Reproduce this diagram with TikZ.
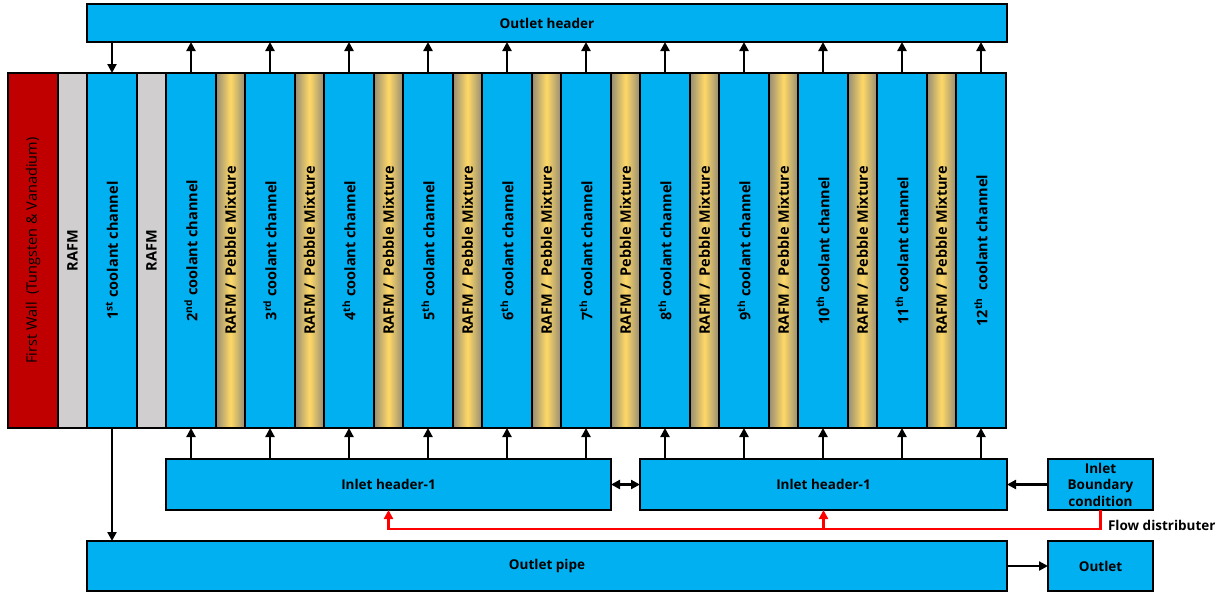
\documentclass[tikz,border=0pt]{standalone}
\usepackage{fontspec}
\setmainfont{Open Sans}
\usepackage{tikz}
\usetikzlibrary{arrows.meta, positioning}

\definecolor{chblue}{RGB}{0,176,240}
\definecolor{fwred}{RGB}{192,0,0}
\definecolor{rafmgray}{RGB}{208,206,206}
\definecolor{pebyellow}{RGB}{255,217,102}
\definecolor{pebgray}{RGB}{150,140,118}

\begin{document}
\begin{tikzpicture}[
    x=1pt, y=1pt,
    node distance=0pt,
    col/.style={rectangle, draw, line width=2pt, minimum height=355pt, inner sep=0pt, outer sep=0pt, font=\fontsize{14.5}{16}\selectfont\bfseries},
    wall/.style={col, fill=fwred, minimum width=50pt, font=\fontsize{14.5}{16}\selectfont},
    rafm/.style={col, fill=rafmgray, minimum width=29pt},
    coolant/.style={col, fill=chblue, minimum width=50pt},
    pebble/.style={col, left color=pebgray, right color=pebgray, middle color=pebyellow, minimum width=29pt},
    header/.style={rectangle, draw, line width=2pt, fill=chblue, inner sep=0pt, outer sep=0pt, align=center, font=\fontsize{13.5}{16.5}\selectfont\bfseries},
    arrow/.style={-{Triangle[length=9pt,width=9pt]}, line width=2.2pt},
    darrow/.style={{Triangle[length=9pt,width=9pt]}-{Triangle[length=9pt,width=9pt]}, line width=2.2pt},
    flow/.style={-{Triangle[length=9pt,width=9pt]}, line width=2.2pt, red},
    every node/.style={font=\fontsize{13.5}{16}\selectfont\bfseries}
]
\useasboundingbox (0,0) rectangle (1223,-592);

% Blanket layers
\node[wall, anchor=north west] (fw) at (8,-73) {\rotatebox{90}{First Wall\ \ (Tungsten \& Vanadium)}};
\node[rafm, right=of fw] (r1) {\rotatebox{90}{RAFM}};
\node[coolant, right=of r1] (c1) {\rotatebox{90}{1\textsuperscript{st} coolant channel}};
\node[rafm, right=of c1] (r2) {\rotatebox{90}{RAFM}};
\node[coolant, right=of r2] (c2) {\rotatebox{90}{2\textsuperscript{nd} coolant channel}};
\node[pebble, right=of c2] (p2) {\rotatebox{90}{RAFM /\ \ Pebble Mixture}};
\node[coolant, right=of p2] (c3) {\rotatebox{90}{3\textsuperscript{rd} coolant channel}};
\node[pebble, right=of c3] (p3) {\rotatebox{90}{RAFM /\ \ Pebble Mixture}};
\node[coolant, right=of p3] (c4) {\rotatebox{90}{4\textsuperscript{th} coolant channel}};
\node[pebble, right=of c4] (p4) {\rotatebox{90}{RAFM /\ \ Pebble Mixture}};
\node[coolant, right=of p4] (c5) {\rotatebox{90}{5\textsuperscript{th} coolant channel}};
\node[pebble, right=of c5] (p5) {\rotatebox{90}{RAFM /\ \ Pebble Mixture}};
\node[coolant, right=of p5] (c6) {\rotatebox{90}{6\textsuperscript{th} coolant channel}};
\node[pebble, right=of c6] (p6) {\rotatebox{90}{RAFM /\ \ Pebble Mixture}};
\node[coolant, right=of p6] (c7) {\rotatebox{90}{7\textsuperscript{th} coolant channel}};
\node[pebble, right=of c7] (p7) {\rotatebox{90}{RAFM /\ \ Pebble Mixture}};
\node[coolant, right=of p7] (c8) {\rotatebox{90}{8\textsuperscript{th} coolant channel}};
\node[pebble, right=of c8] (p8) {\rotatebox{90}{RAFM /\ \ Pebble Mixture}};
\node[coolant, right=of p8] (c9) {\rotatebox{90}{9\textsuperscript{th} coolant channel}};
\node[pebble, right=of c9] (p9) {\rotatebox{90}{RAFM /\ \ Pebble Mixture}};
\node[coolant, right=of p9] (c10) {\rotatebox{90}{10\textsuperscript{th} coolant channel}};
\node[pebble, right=of c10] (p10) {\rotatebox{90}{RAFM /\ \ Pebble Mixture}};
\node[coolant, right=of p10] (c11) {\rotatebox{90}{11\textsuperscript{th} coolant channel}};
\node[pebble, right=of c11] (p11) {\rotatebox{90}{RAFM /\ \ Pebble Mixture}};
\node[coolant, right=of p11] (c12) {\rotatebox{90}{12\textsuperscript{th}\ \ coolant channel}};

% Headers and pipes
\node[header, anchor=south west, minimum width=920pt, minimum height=38pt] (outhead) at ([yshift=31pt]c1.north west) {Outlet header};
\node[header, anchor=north west, minimum width=445pt, minimum height=51pt] (inleft) at ([yshift=-31pt]c2.south west) {Inlet header-1};
\node[header, anchor=north west, minimum width=367pt, minimum height=51pt] (inright) at ([yshift=-31pt]c8.south west) {Inlet header-1};
\node[header, right=41pt of inright, minimum width=105pt, minimum height=51pt] (inbc) {Inlet\\Boundary\\condition};
\node[header, anchor=north west, minimum width=920pt, minimum height=50pt] (outpipe) at ([yshift=-113pt]c1.south west) {Outlet pipe};
\node[header, right=41pt of outpipe, minimum width=105pt, minimum height=50pt] (outlet) {Outlet};

% Arrows to outlet header
\draw[arrow] (c1.north |- outhead.south) -- (c1.north);
\draw[arrow] (c2.north) -- (c2.north |- outhead.south);
\draw[arrow] (c3.north) -- (c3.north |- outhead.south);
\draw[arrow] (c4.north) -- (c4.north |- outhead.south);
\draw[arrow] (c5.north) -- (c5.north |- outhead.south);
\draw[arrow] (c6.north) -- (c6.north |- outhead.south);
\draw[arrow] (c7.north) -- (c7.north |- outhead.south);
\draw[arrow] (c8.north) -- (c8.north |- outhead.south);
\draw[arrow] (c9.north) -- (c9.north |- outhead.south);
\draw[arrow] (c10.north) -- (c10.north |- outhead.south);
\draw[arrow] (c11.north) -- (c11.north |- outhead.south);
\draw[arrow] (c12.north) -- (c12.north |- outhead.south);

% Arrows from inlet headers
\draw[arrow] (c2.south |- inleft.north) -- (c2.south);
\draw[arrow] (c3.south |- inleft.north) -- (c3.south);
\draw[arrow] (c4.south |- inleft.north) -- (c4.south);
\draw[arrow] (c5.south |- inleft.north) -- (c5.south);
\draw[arrow] (c6.south |- inleft.north) -- (c6.south);
\draw[arrow] (c7.south |- inleft.north) -- (c7.south);
\draw[arrow] (c8.south |- inright.north) -- (c8.south);
\draw[arrow] (c9.south |- inright.north) -- (c9.south);
\draw[arrow] (c10.south |- inright.north) -- (c10.south);
\draw[arrow] (c11.south |- inright.north) -- (c11.south);
\draw[arrow] (c12.south |- inright.north) -- (c12.south);

\draw[darrow] (inleft.east) -- (inright.west);
\draw[arrow] (inbc.west) -- (inright.east);
\draw[arrow] (c1.south) -- (c1.south |- outpipe.north);
\draw[arrow] (outpipe.east) -- (outlet.west);

% Flow distributer
\coordinate (fd) at ([yshift=-19pt]inbc.south);
\draw[flow] (inbc.south) -- (fd) -| (inleft.south);
\draw[flow] (fd -| inright.south) -- (inright.south);
\node[anchor=west] (fdlbl) at ([xshift=4pt,yshift=4pt]fd) {Flow distributer};

\end{tikzpicture}
\end{document}
